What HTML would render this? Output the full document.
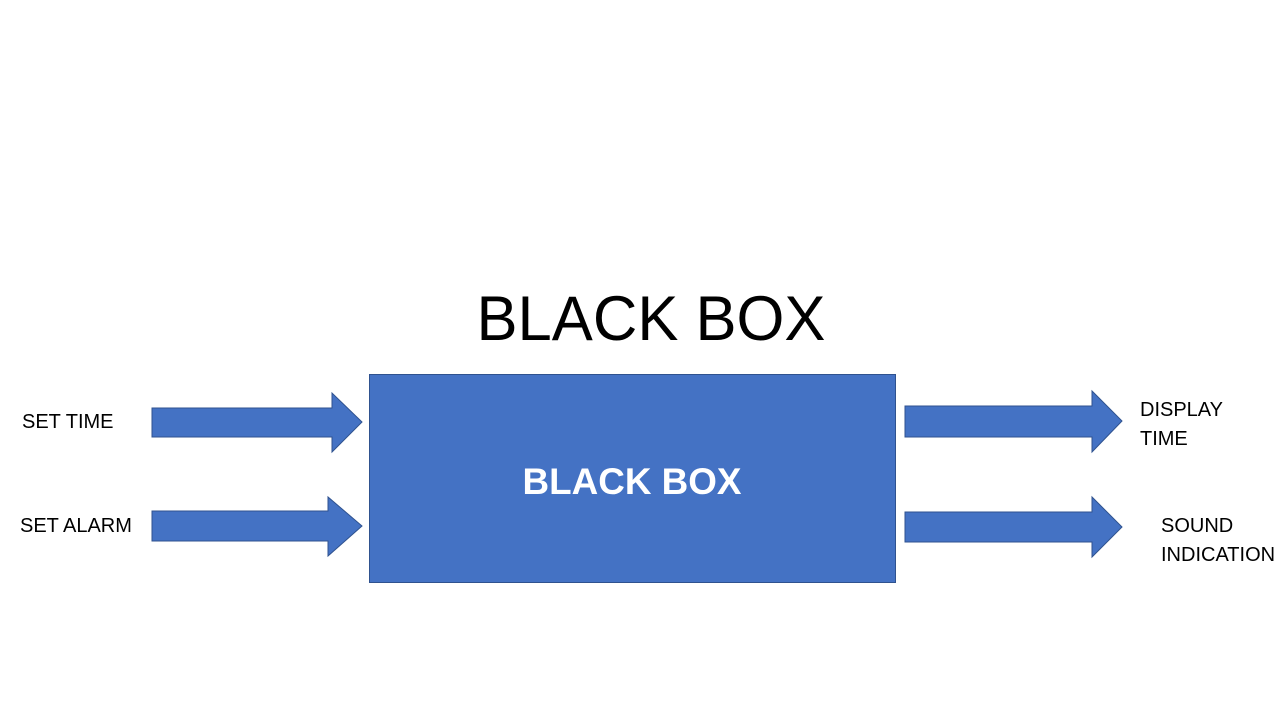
<!DOCTYPE html>
<html><head><style>
body{margin:0;width:1280px;height:720px;background:#fff;overflow:hidden;font-family:"Liberation Sans",sans-serif;}
.t{position:absolute;color:#000;font-size:20px;line-height:29px;}
</style></head><body>
<svg width="1280" height="720" style="position:absolute;left:0;top:0">
<g fill="#4472C4" stroke="#2F528F" stroke-width="1">
<rect x="369.5" y="374.5" width="526" height="208"/>
<polygon points="152,408 332,408 332,393 362,422 332,452 332,437 152,437"/>
<polygon points="152,511 328,511 328,497 362,526 328,556 328,541 152,541"/>
<polygon points="905,406 1092,406 1092,391 1122,421 1092,452 1092,437 905,437"/>
<polygon points="905,512 1092,512 1092,497 1122,527 1092,557 1092,542 905,542"/>
</g>
<text x="651" y="340" text-anchor="middle" font-family="Liberation Sans, sans-serif" font-size="63" textLength="349" lengthAdjust="spacingAndGlyphs" fill="#000">BLACK BOX</text>
<text x="632" y="494" text-anchor="middle" font-family="Liberation Sans, sans-serif" font-size="37" font-weight="bold" textLength="219" lengthAdjust="spacingAndGlyphs" fill="#fff">BLACK BOX</text>
</svg>
<div class="t" style="left:22px;top:408px">SET TIME</div>
<div class="t" style="left:20px;top:512px">SET ALARM</div>
<div class="t" style="left:1140px;top:396px">DISPLAY<br>TIME</div>
<div class="t" style="left:1161px;top:512px">SOUND<br>INDICATION</div>
</body></html>
